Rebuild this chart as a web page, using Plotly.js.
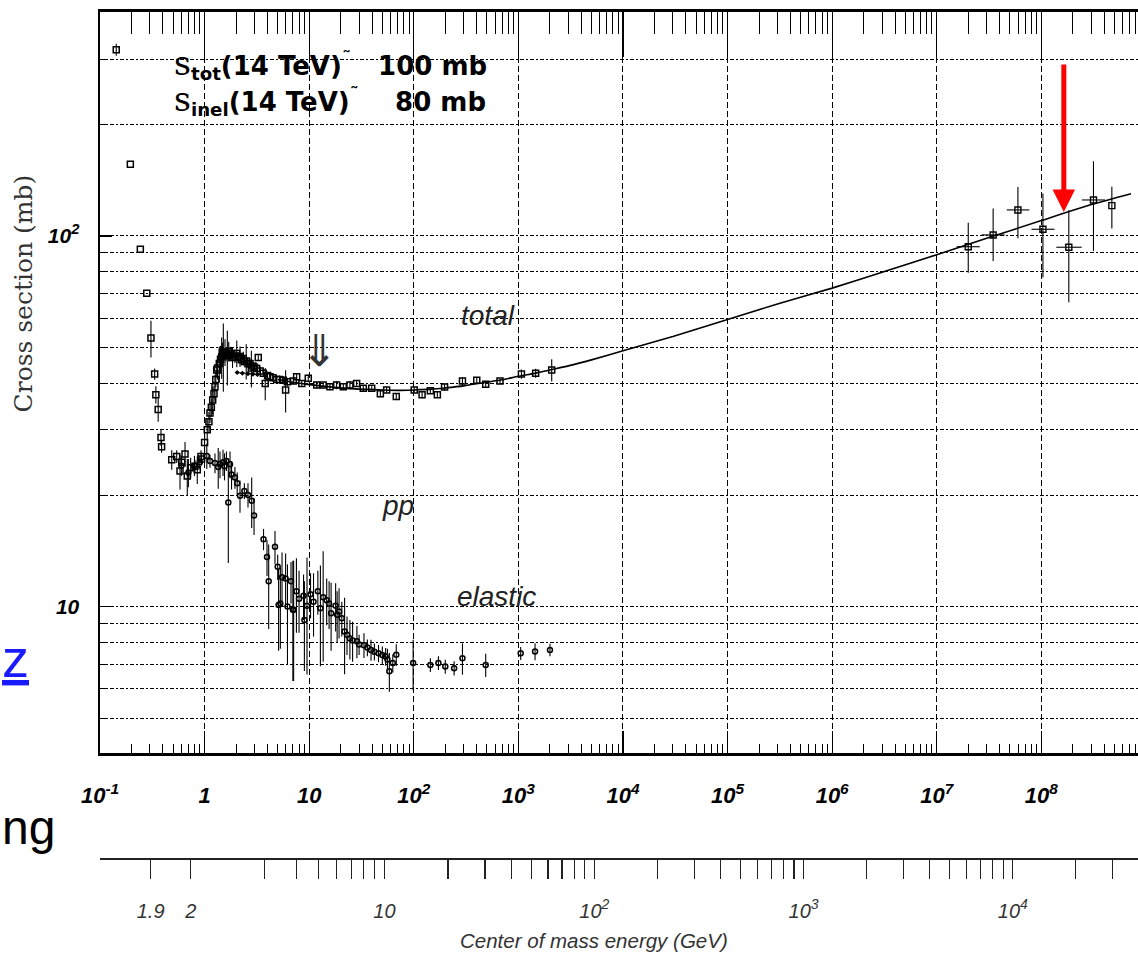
<!DOCTYPE html>
<html><head><meta charset="utf-8">
<script src="https://cdn.plot.ly/plotly-3.0.1.min.js"></script>
<style>html,body{margin:0;padding:0;background:#fff;overflow:hidden}#chart{width:1138px;height:953px}</style>
</head><body><div id="chart"></div>
<script>
// ---- total cross section data (p_lab GeV/c, sigma mb, error mb)
const totP = [0.143,0.195,0.243,0.280,0.307,0.333,0.342,0.36,0.383,0.388,
  0.485,0.541,0.582,0.604,0.65,0.683,0.736,0.809,0.851,0.924,0.935,
  1.0,1.06,1.1,1.126,1.16,1.195,1.23,1.257,1.28,1.306,1.33,1.382,1.42,1.456,1.48,1.51,1.567,1.6,1.65,1.7,1.75,1.8,1.85,1.95,2.03,2.1,2.18,2.25,2.344,2.4,2.5,2.6,2.72,2.8,2.9,3.0,
  3.15,3.26,3.4,3.64,3.8,4.0,4.22,4.5,4.89,5.2,5.65,5.95,6.2,7.05,7.59,8.5,9.8,11.8,13.6,15.8,18.3,21.2,24.5,28.4,32.9,39.6,
  47.9,55,68,101,120,144,168,197,292,400,487,667,1069,1463,2083];
const totS = [318,156,92,70,53,42.4,37.3,34,28.6,27,
  24.9,25.4,23.2,24.5,25.8,22.5,23.7,23.9,23.4,25.4,25.0,
  27.7,30,31.5,33.3,34.5,36.1,37.5,39.2,41,43.5,44,45.3,46.5,47.2,48.5,48,48.6,47.8,47.5,48.8,48.2,47.9,47.0,47.4,48.2,47.0,47.3,46.3,46.7,45.8,46.0,45.2,45.3,44,44.6,44.2,
  43.9,47.0,43.2,42.6,40,42.0,41.7,41.4,41.0,41.0,40.8,38.4,40.4,40.6,41.7,40.0,41.3,39.6,39.6,39.2,39.6,39.2,39.6,40.0,38.8,38.8,
  37.5,38.4,36.9,38.4,37.3,38.2,37.3,39.1,40.6,40.8,39.8,40.6,42.4,42.6,43.5];
const totE = [12,0,0,0,6,1.5,2,2.5,1.5,1,
  1.5,1,2.5,1,2,2.5,1.5,1,2,1,1,
  3,2,2,2,2,3,2,3,2,2,3,5,4,6,3,10,4,2,8,3,2,2,3,2,4,1.5,3,1.5,2,1,5,1,1.5,5,1,1,
  1,0.8,1,1,4,1,1,1,1,1,1,5,1,0.8,0.8,0.8,1,0.8,0.6,0.8,1,0.8,1,0.6,0.8,0.5,
  0.8,0.6,0.8,0.6,0.8,0.6,0.6,0.8,1,0.8,0.8,0.6,1.2,1.2,3];
// second total dataset (thin line, small markers)
const totBP = [2.05,2.3,2.6,2.9,3.2];
const totBS = [42.8,42.6,42.5,42.4,42.3];
// ---- elastic cross section data
const elaP = [0.6,0.7,0.8,0.9,1.05,1.126,1.257,1.35,1.403,1.5,1.55,1.617,1.686,1.75,1.81,1.95,2.05,2.18,2.4,2.6,2.82,2.97,3.66,3.95,4.1,
  4.71,5.0,5.1,5.3,5.5,5.95,6.2,6.7,6.98,7.1,7.55,8.0,8.83,9.0,9.53,10.3,11.0,12.1,12.8,13.6,14.7,15.5,16.2,17.9,18.5,19.3,20.5,21.8,23,24.5,26,28.6,30,
  33.4,36,39,42,46,50,53.8,56,58.4,63,68,98.6,144,172,200,243,292,487,1052,1443,2004];
const elaS = [24,23,24,24.5,25.5,24.7,24.4,23.8,24.2,24.5,23.9,24.7,19.1,24.2,22.7,22.3,21.5,19.9,20.5,20.0,19.3,17.6,15.2,13.6,11.7,
  14.5,12.8,10.1,10.2,12.0,11.9,10.0,11.7,9.8,9.8,11.0,10.5,10.7,9.2,10.06,10.8,10.3,11.0,9.9,10.6,10.4,10.2,9.6,10.06,9.5,9.7,9.3,8.57,8.4,8.2,8.1,8.06,7.9,
  7.87,7.75,7.64,7.55,7.48,7.4,7.33,7.2,6.69,7.04,7.41,7.04,6.96,7.04,6.89,6.82,7.25,6.96,7.48,7.56,7.64];
const elaE = [1.5,2,1.5,1,2,1,1.5,3,2,2,2,1.5,6,2,2,1.5,1.5,2,1,1.5,3,2,1,1.5,3,
  1.5,1,2.5,2.5,2,2,3,1.5,3.5,3.5,2.5,2,1.5,2.5,3.5,1.5,2,1.5,3,3.5,1.5,1.5,2,1.5,1.5,1.5,1,2,1,1,1,0.8,0.5,
  0.6,0.4,0.5,0.4,0.4,0.4,0.4,0.5,0.8,0.4,0.5,1.1,0.3,0.3,0.3,0.3,0.7,0.5,0.3,0.4,0.3];
// ---- total cross section fit
const fitP = [5,7,10,15,20,30,50,70,100,150,200,300,500,700,1000,1500,2000,3000,5000,1e4,3e4,1e5,3e5,1e6,3e6,1e7,3e7,1e8,3e8,7.2e8];
const fitS = [41.0,40.3,39.7,39.2,38.9,38.6,38.4,38.3,38.4,38.6,38.9,39.4,40.3,40.9,41.8,42.7,43.5,44.6,46.3,49.0,53.5,59.5,65.5,72.3,79.8,89.0,98.5,110,121.5,130];
// ---- cosmic ray points
const cosP = [2.0e7,3.46e7,5.97e7,1.035e8,1.83e8,3.15e8,4.72e8];
const cosS = [93.5,100.6,117.5,104.2,93.2,125,120.7];
const cosEp = [15,18,18,26,24,34,15];
const cosEm = [14,15,19,27,27,34,16];
const cosXp = [5.8e6,1.0e7,1.7e7,3.0e7,6.0e7,9.1e7,0];
const cosXm = [4.5e6,7.8e6,1.3e7,2.3e7,4.4e7,7.1e7,0];
// ---- ticks
const xTickVals = [0.1,1,10,100,1e3,1e4,1e5,1e6,1e7,1e8];
const xTickText = ['10<sup>-1</sup>','1','10','10<sup>2</sup>','10<sup>3</sup>','10<sup>4</sup>','10<sup>5</sup>','10<sup>6</sup>','10<sup>7</sup>','10<sup>8</sup>'];
const yTickVals = [10,100];
const yTickText = ['10','10<sup>2</sup>'];
const yGridVals = [5,6,7,8,9,20,30,40,50,60,70,80,90,200,300];
const cmTicks = [1.9,2,3,4,5,6,7,8,9,10,20,30,40,50,60,70,80,90,100,200,300,400,500,600,700,800,900,1000,
  2000,3000,4000,5000,6000,7000,8000,9000,10000,20000,30000];
const cmLabels = {1.9:'1.9',2:'2',10:'10',100:'10<sup>2</sup>',1000:'10<sup>3</sup>',10000:'10<sup>4</sup>'};
const MP = 0.938;
const arrowP = 1.64e8, arrowS = 116;

function plab(rs){const s=rs*rs;const E=(s-2*MP*MP)/(2*MP);return Math.sqrt(E*E-MP*MP);}
const xMinor=[];
for(let n=-1;n<=8;n++){for(let k=2;k<=9;k++){xMinor.push(k*Math.pow(10,n));}}
const cmVals = cmTicks.map(plab);
const cmText = cmTicks.map(v=>cmLabels[v]!==undefined?cmLabels[v]:'');

const XR=[-1,8.924], YR=[0.605,2.604];
const errStyle = {type:'data',visible:true,thickness:1.1,width:0,color:'#000'};

const traces = [
 {type:'scatter',mode:'lines',x:fitP,y:fitS,line:{color:'#000',width:1.6,shape:'spline',smoothing:0.6},hoverinfo:'skip'},
 {type:'scatter',mode:'lines+markers',x:totBP,y:totBS,line:{color:'#000',width:1},marker:{symbol:'diamond',size:4,color:'#000'}},
 {type:'scatter',mode:'markers',x:elaP,y:elaS,error_y:Object.assign({array:elaE},errStyle),
   marker:{symbol:'circle-open',size:5,color:'#000',line:{width:1.5,color:'#000'}}},
 {type:'scatter',mode:'markers',x:totP,y:totS,error_y:Object.assign({array:totE},errStyle),
   marker:{symbol:'square-open',size:6,color:'#000',line:{width:1.5,color:'#000'}}},
 {type:'scatter',mode:'markers',x:cosP,y:cosS,
   error_y:Object.assign({array:cosEp,arrayminus:cosEm,symmetric:false},errStyle),
   error_x:Object.assign({array:cosXp,arrayminus:cosXm,symmetric:false},errStyle),
   marker:{symbol:'square-open',size:6,color:'#000',line:{width:1.4,color:'#000'}}},
 {type:'scatter',x:[],y:[],xaxis:'x2',yaxis:'y',showlegend:false},
 {type:'scatter',x:[],y:[],xaxis:'x3',yaxis:'y',showlegend:false}
];

const boldItal = {family:'Liberation Sans, Arial, sans-serif',size:22,weight:'bold',style:'italic',color:'#000'};
const gridDashY = '4px,2px,2px,2px';
const layout = {
  width:1138,height:953,margin:{l:100,r:0,t:12,b:95},
  paper_bgcolor:'#fff',plot_bgcolor:'#fff',showlegend:false,
  xaxis:{type:'log',range:XR,domain:[0,1],anchor:'y',side:'bottom',
    showline:true,linewidth:2.5,linecolor:'#000',zeroline:false,
    tickmode:'array',tickvals:xTickVals,ticktext:xTickText,
    ticks:'inside',ticklen:22,tickwidth:1.2,tickcolor:'#000',
    showgrid:true,gridcolor:'#000',gridwidth:1,griddash:'6px,3px',
    minor:{tickmode:'array',tickvals:xMinor,ticks:'inside',ticklen:9,tickwidth:1,tickcolor:'#000',showgrid:false},
    tickfont:boldItal,ticklabelstandoff:21},
  xaxis2:{type:'log',range:XR,overlaying:'x',anchor:'free',position:0,side:'bottom',
    showline:true,linewidth:1.5,linecolor:'#222',zeroline:false,showgrid:false,
    tickmode:'array',tickvals:cmVals,ticktext:cmText,
    ticks:'outside',ticklen:19,tickwidth:1.2,tickcolor:'#222',
    tickfont:{family:'Liberation Sans, Arial, sans-serif',size:20,style:'italic',color:'#333'},ticklabelstandoff:15},
  xaxis3:{type:'log',range:XR,overlaying:'x',anchor:'y',side:'top',
    showline:true,linewidth:3,linecolor:'#000',zeroline:false,showgrid:false,
    tickmode:'array',tickvals:xTickVals,showticklabels:false,
    ticks:'inside',ticklen:45,tickwidth:1.2,tickcolor:'#000',
    minor:{tickmode:'array',tickvals:xMinor,ticks:'inside',ticklen:22,tickwidth:1,tickcolor:'#000',showgrid:false}},
  yaxis:{type:'log',range:YR,domain:[0.1241,1],anchor:'x',
    showline:true,linewidth:2.5,linecolor:'#000',zeroline:false,
    tickmode:'array',tickvals:yTickVals,ticktext:yTickText,
    ticks:'inside',ticklen:12,tickwidth:1.2,tickcolor:'#000',
    showgrid:true,gridcolor:'#000',gridwidth:1,griddash:gridDashY,
    minor:{tickmode:'array',tickvals:yGridVals,ticks:'inside',ticklen:6,tickwidth:1,tickcolor:'#000',
      showgrid:true,gridcolor:'#000',gridwidth:1,griddash:gridDashY},
    tickfont:Object.assign({},boldItal,{size:21}),ticklabelstandoff:14},
  annotations:[
    {xref:'paper',yref:'paper',x:-0.0742,y:0.6673,text:'Cross section (mb)',textangle:-90,showarrow:false,
      font:{family:'DejaVu Serif, serif',size:25,color:'#333'},xanchor:'center',yanchor:'middle'},
    {xref:'paper',yref:'paper',x:0.4759,y:-0.0981,text:'Center of mass energy (GeV)',showarrow:false,
      font:{family:'Liberation Sans, Arial, sans-serif',size:20.5,style:'italic',color:'#333'},xanchor:'center',yanchor:'middle'},
    {x:2.709,y:1.784,text:'total',showarrow:false,font:{family:'Liberation Sans, Arial, sans-serif',size:28,style:'italic',color:'#222'}},
    {x:1.849,y:1.274,text:'pp',showarrow:false,font:{family:'Liberation Sans, Arial, sans-serif',size:28,style:'italic',color:'#222'}},
    {x:2.786,y:1.026,text:'elastic',showarrow:false,font:{family:'Liberation Sans, Arial, sans-serif',size:28,style:'italic',color:'#222'}},
    {x:1.094,y:1.692,text:'⇓',showarrow:false,font:{family:'DejaVu Sans, sans-serif',size:44,color:'#333'}},
    {x:Math.log10(arrowP),y:Math.log10(arrowS),text:'',showarrow:true,ax:0,ay:-149,arrowcolor:'#ff0000',
      arrowwidth:5,arrowhead:2,arrowsize:0.9,standoff:0},
    {x:-0.3145,y:2.4637,xanchor:'left',yanchor:'middle',showarrow:false,
      text:'<span style="font-family:\'DejaVu Serif\';font-weight:normal;font-size:33px">s</span><sub>tot</sub>(14 TeV)<sup>˜</sup>\u00a0\u00a0 100 mb',
      font:{family:'DejaVu Sans, sans-serif',size:26,weight:'bold',color:'#000'}},
    {x:-0.3145,y:2.3666,xanchor:'left',yanchor:'middle',showarrow:false,
      text:'<span style="font-family:\'DejaVu Serif\';font-weight:normal;font-size:33px">s</span><sub>inel</sub>(14 TeV)<sup>˜</sup>\u00a0\u00a0\u00a0 80 mb',
      font:{family:'DejaVu Sans, sans-serif',size:26,weight:'bold',color:'#000'}},
    {xref:'paper',yref:'paper',x:-0.0953,y:0.2364,xanchor:'left',yanchor:'middle',showarrow:false,borderpad:0,
      text:'<u>z</u>',font:{family:'Liberation Sans, Arial, sans-serif',size:54,color:'#1a1aff'}},
    {xref:'paper',yref:'paper',x:-0.0953,y:0.0366,xanchor:'left',yanchor:'middle',showarrow:false,borderpad:0,
      text:'ng',font:{family:'Liberation Sans, Arial, sans-serif',size:48,color:'#000'}}
  ]
};
Plotly.newPlot('chart',traces,layout,{staticPlot:true,displayModeBar:false});
</script></body></html>
